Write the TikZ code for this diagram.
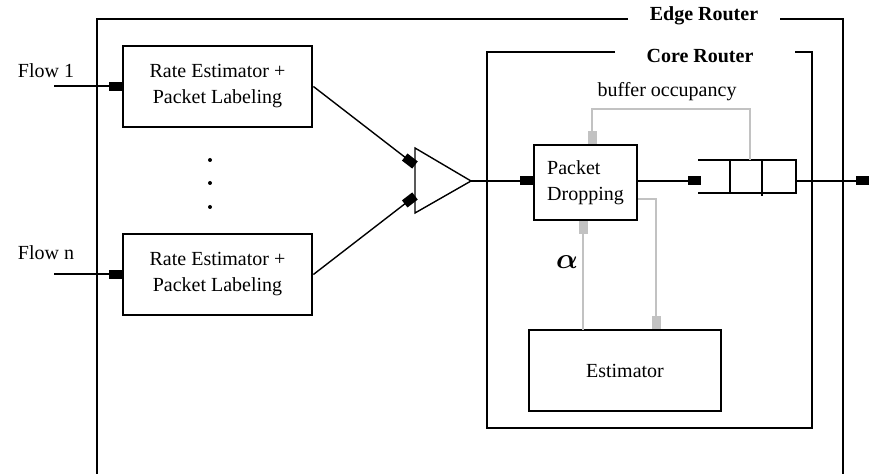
\documentclass[tikz,border=0pt]{standalone}
\usepackage{fontspec}
\setmainfont{Liberation Serif}
\usetikzlibrary{arrows.meta,positioning}

\definecolor{sigcolor}{gray}{0.76}
\tikzset{
  block/.style={draw, line width=1.4pt, align=center, inner sep=0pt},
  blocktip/.style={-{Square[length=6.5pt,width=4.5pt]}},
  flow/.style={line width=1pt, blocktip},
  thinflow/.style={line width=0.7pt, blocktip},
  signal/.style={draw=sigcolor, line width=1pt, blocktip},
  router/.style={line width=1.4pt},
  title/.style={font=\bfseries, inner sep=0pt},
}

\begin{document}
\begin{tikzpicture}[x=0.5pt,y=-0.5pt,font=\fontsize{10}{13}\selectfont]
  \useasboundingbox (0,0) rectangle (869,474);

  % Edge router frame
  \node[title] (edge) at (704,16) {Edge Router}; %
  \coordinate (er-gl) at (628,19); %
  \coordinate (er-gr) at (780,19); %
  \draw[router] (er-gl) -- (97,19) -- (97,474); %
  \draw[router] (er-gr) -- (843,19) -- (843,474); %

  % Core router frame
  \node[title] (core) at (700,56) {Core Router}; %
  \coordinate (cr-gl) at (615,52); %
  \coordinate (cr-gr) at (795,52); %
  \draw[router] (cr-gl) -- (487,52) -- (487,428) -- (812,428) -- (812,52) -- (cr-gr); %

  % Rate estimators
  \node[block, minimum width=94.5pt, minimum height=40.5pt] (rate1) at (217.5,86.5) {Rate Estimator +\\Packet Labeling}; %
  \node[block, minimum width=94.5pt, minimum height=40.5pt] (raten) at (217.5,274.5) {Rate Estimator +\\Packet Labeling}; %
  \foreach \y in {160,183,207}
    \fill (210,\y) circle (1pt); %

  % Flows in
  \node (flow1) at (46,71) {Flow 1}; %
  \node (flown) at (46,253) {Flow n}; %
  \coordinate (in1) at (54,86.5); %
  \coordinate (inn) at (54,274.5); %
  \draw[flow] (in1) -- (rate1.west); %
  \draw[flow] (inn) -- (raten.west); %

  % Merge
  \draw[line width=0.7pt] (415,148) -- (471,181) -- (415,213) -- cycle; %
  \coordinate (mux-in1) at (415,165); %
  \coordinate (mux-inn) at (415,196); %
  \coordinate (mux-out) at (471,181); %
  \draw[thinflow] (rate1.east) -- (mux-in1); %
  \draw[thinflow] (raten.east) -- (mux-inn); %

  % Packet dropping and queue
  \node[block, align=left, minimum width=51.5pt, minimum height=37.5pt] (drop) at (585.5,182.5) {Packet\\Dropping}; %
  \draw[flow] (mux-out) -- (mux-out -| drop.west); %
  \draw[line width=1pt] (698,160) -- (796,160) -- (796,193) -- (698,193); %
  \draw[line width=1pt] (730,160) -- (730,193); %
  \draw[line width=1pt] (762,160) -- (762,196); %
  \coordinate (q-in) at (701,181); %
  \coordinate (q-out) at (796,181); %
  \coordinate (out) at (869,181); %
  \draw[flow] (drop.east |- q-in) -- (q-in); %
  \draw[flow] (q-out) -- (out); %

  % Estimator
  \node[block, minimum width=96pt, minimum height=40.5pt] (est) at (625,370.5) {Estimator}; %

  % Feedback signals
  \node (occ) at (667,92) {buffer occupancy}; %
  \coordinate (q-top) at (750,160); %
  \coordinate (occ-r) at (750,109); %
  \coordinate (occ-l) at (592,109); %
  \draw[signal] (q-top) -- (occ-r) -- (occ-l) -- (occ-l |- drop.north); %
  \coordinate (fb-r) at (656,199); %
  \draw[signal] (drop.east |- fb-r) -- (fb-r) -- (fb-r |- est.north); %
  \coordinate (est-up) at (583,330); %
  \draw[signal] (est-up) -- (est-up |- drop.south); %
  \node[font=\fontsize{14}{14}\selectfont\boldmath] (alpha) at (567,262) {$\alpha$}; %

\end{tikzpicture}
\end{document}
